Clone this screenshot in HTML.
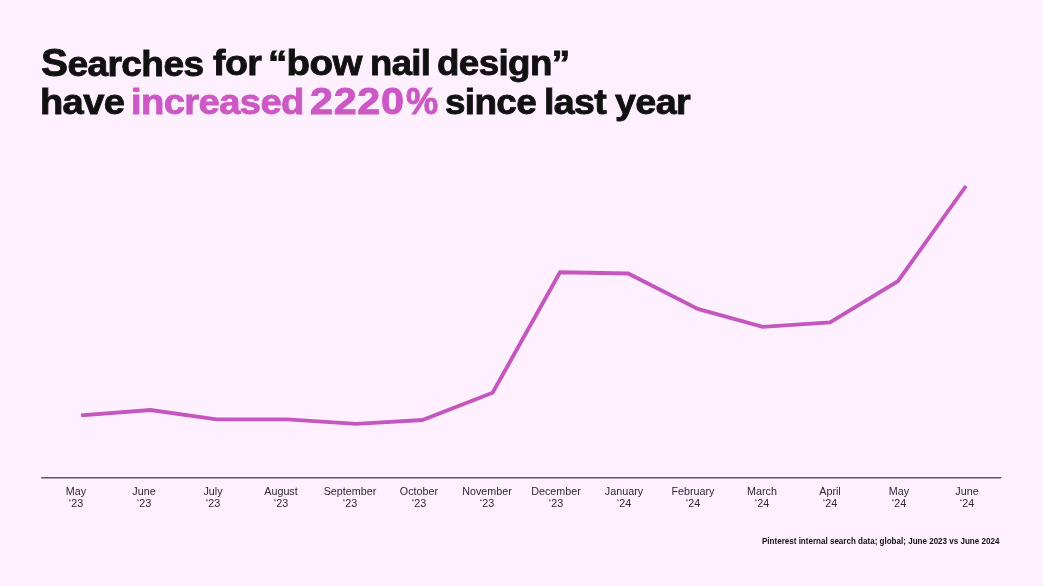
<!DOCTYPE html>
<html lang="en">
<head>
<meta charset="utf-8">
<title>Searches for “bow nail design”</title>
<style>
  html, body { margin: 0; padding: 0; }
  body {
    width: 1043px; height: 586px; overflow: hidden;
    background: #fef0fe;
    font-family: "Liberation Sans", sans-serif;
    position: relative;
    color: #111;
  }
  h1 { position: absolute; left: 0; top: 0; margin: 0; font-size: 35.9px; line-height: 40px; font-weight: 700; color: #111; -webkit-text-stroke: 0.85px #111; }
  h1 .w { position: absolute; white-space: nowrap; letter-spacing: -0.6px; transform-origin: 0 33px; }
  h1 .l1 { top: 43.3px; }
  h1 .l2 { top: 81.5px; }
  h1 .hl { color: #cb58c4; -webkit-text-stroke-color: #cb58c4; }
  .layer { position: absolute; left: 0; top: 0; width: 1043px; height: 586px; will-change: transform; }
  svg.chart { position: absolute; left: 0; top: 0; }
  .lbl {
    position: absolute; top: 485.9px; width: 80px; margin-left: -40px;
    text-align: center; font-size: 10px; line-height: 12.6px; color: #2c282e; transform: scaleX(1.075);
  }
  .src {
    position: absolute; right: 43.8px; top: 536.2px; font-size: 8.7px; font-weight: 700; transform: scaleX(0.926); transform-origin: 100% 50%;
    color: #111; white-space: nowrap;
  }
</style>
</head>
<body>
<div class="layer">
<h1><span class="w l1" style="left:41.16px;transform:scaleX(1.0353)"><span style="font-size:1.09em">S</span>earches</span> <span class="w l1" style="left:212.50px;transform:scaleX(1.0468)">for</span> <span class="w l1" style="left:268.25px;transform:scaleX(1.0733)">“bow</span> <span class="w l1" style="left:370.07px;transform:scaleX(1.0161)">nail</span> <span class="w l1" style="left:437.38px;transform:scaleX(1.0236)">design”</span>
<span class="w l2" style="left:40.48px;transform:scaleX(1.0610)">have</span> <span class="w l2 hl" style="left:130.77px;transform:scaleX(1.0648)">increased</span> <span class="w l2 hl" style="left:310.45px;letter-spacing:0.6px;transform:scale(1.1500,1.035)">2220</span><span class="w l2 hl" style="left:406.40px;letter-spacing:0px;transform:scale(1.0097,1.035)">%</span> <span class="w l2" style="left:444.77px;transform:scaleX(1.0261)">since</span> <span class="w l2" style="left:544.41px;transform:scaleX(1.0466)">last</span> <span class="w l2" style="left:614.70px;transform:scaleX(1.0500)">year</span></h1>
</div>

<svg class="chart" width="1043" height="586" viewBox="0 0 1043 586">
  <polyline fill="none" stroke="#c457be" stroke-width="3.85" stroke-linejoin="miter" stroke-linecap="butt"
    points="81.2,415.4 150.5,410 216.6,419.4 287,419.4 356.2,423.8 422.4,420 492.6,392.8 560,272.3 628.2,273.5 697.8,308.9 762.7,326.9 830.1,322.4 897.9,281.2 966,186"/>
  <line x1="41.2" y1="477.8" x2="1001.3" y2="477.8" stroke="#5f5563" stroke-width="1.4"/>
</svg>


<div class="layer">
<div class="lbl" style="left:75.7px">May<br>‘23</div>
<div class="lbl" style="left:144.3px">June<br>‘23</div>
<div class="lbl" style="left:212.9px">July<br>‘23</div>
<div class="lbl" style="left:281.4px">August<br>‘23</div>
<div class="lbl" style="left:350.0px">September<br>‘23</div>
<div class="lbl" style="left:418.6px">October<br>‘23</div>
<div class="lbl" style="left:487.2px">November<br>‘23</div>
<div class="lbl" style="left:555.8px">December<br>‘23</div>
<div class="lbl" style="left:624.3px">January<br>‘24</div>
<div class="lbl" style="left:692.9px">February<br>‘24</div>
<div class="lbl" style="left:761.5px">March<br>‘24</div>
<div class="lbl" style="left:830.1px">April<br>‘24</div>
<div class="lbl" style="left:898.7px">May<br>‘24</div>
<div class="lbl" style="left:967.2px">June<br>‘24</div>

<div class="src">Pinterest internal search data; global; June 2023 vs June 2024</div>
</div>
</body>
</html>
